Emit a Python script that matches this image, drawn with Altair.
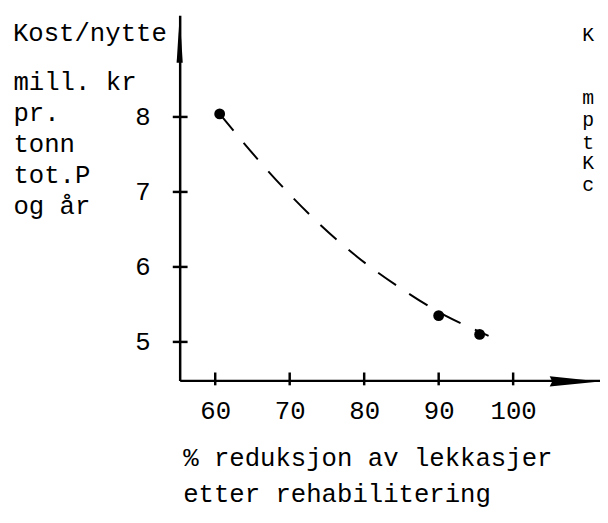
import altair as alt
import pandas as pd

# ---------------- data ----------------
point_x = [60.6, 90.0, 95.5]          # % reduksjon av lekkasjer
point_y = [8.04, 5.35, 5.10]          # kost/nytte, mill. kr pr. tonn tot.P og år
curve_x = [60.6, 65.4, 69.3, 73.7, 79.0, 85.3, 90.9, 95.4, 96.7]
curve_y = [8.04, 7.47, 7.04, 6.60, 6.14, 5.69, 5.35, 5.14, 5.08]
x_ticks = [60, 70, 80, 90, 100]
y_ticks = [5, 6, 7, 8]
y_head = "Kost/nytte"
y_title_lines = ["mill. kr", "pr.", "tonn", "tot.P", "og år"]
x_title_lines = ["% reduksjon av lekkasjer", "etter rehabilitering"]
right_letters = ["K", "m", "p", "t", "K", "c"]   # cut-off text of the next figure

# ---------------- layout / style constants ----------------
W, H = 426, 370
PAD = {"left": 174, "top": 4, "right": 0, "bottom": 133}
X_DOMAIN = [55.23, 111.66]
Y_DOMAIN = [4.487, 9.355]
FONT = "Liberation Mono"
FS = 26
WEIGHT = "normal"
RIGHT_X = 408
RIGHT_BASELINES = [38, 102, 124, 147, 168, 190]

xs = alt.Scale(domain=X_DOMAIN, nice=False, zero=False)
ys = alt.Scale(domain=Y_DOMAIN, nice=False, zero=False)

x_axis = alt.Axis(
    values=x_ticks, title=x_title_lines, grid=False, ticks=False, tickSize=0,
    domainColor="black", domainWidth=2.5,
    labelFont=FONT, labelFontSize=FS, labelFontWeight=WEIGHT, labelColor="black",
    labelPadding=18, labelAngle=0,
    titleFont=FONT, titleFontSize=FS, titleFontWeight=WEIGHT, titleColor="black",
    titleAlign="left", titleBaseline="alphabetic", titleAngle=0,
    titleX=3, titleY=86, titleLineHeight=37,
)
y_axis = alt.Axis(
    values=y_ticks, title=y_title_lines, grid=False, ticks=False, tickSize=0,
    domainColor="black", domainWidth=2.5,
    labelFont=FONT, labelFontSize=FS, labelFontWeight=WEIGHT, labelColor="black",
    labelPadding=30,
    titleFont=FONT, titleFontSize=FS, titleFontWeight=WEIGHT, titleColor="black",
    titleAlign="left", titleBaseline="alphabetic", titleAngle=0,
    titleX=-169, titleY=75, titleLineHeight=31.5,
)

curve_df = pd.DataFrame({"x": curve_x, "y": curve_y})
points_df = pd.DataFrame({"x": point_x, "y": point_y})
xt_df = pd.DataFrame({"x": x_ticks})
yt_df = pd.DataFrame({"y": y_ticks})

curve = alt.Chart(curve_df).mark_line(
    color="black", strokeWidth=2, strokeDash=[22, 16], interpolate="monotone"
).encode(
    x=alt.X("x:Q", scale=xs, axis=x_axis),
    y=alt.Y("y:Q", scale=ys, axis=y_axis),
)

points = alt.Chart(points_df).mark_circle(color="black", size=120, opacity=1).encode(
    x=alt.X("x:Q", scale=xs, axis=x_axis),
    y=alt.Y("y:Q", scale=ys, axis=y_axis),
)

xticks = alt.Chart(xt_df).mark_rule(color="black", strokeWidth=2.5).encode(
    x=alt.X("x:Q", scale=xs, axis=x_axis),
    y=alt.value(H - 8), y2=alt.value(H + 5),
)
yticks = alt.Chart(yt_df).mark_rule(color="black", strokeWidth=2.5).encode(
    y=alt.Y("y:Q", scale=ys, axis=y_axis),
    x=alt.value(-7), x2=alt.value(8),
)

one = pd.DataFrame({"a": [0]})
y_arrow = alt.Chart(one).mark_point(
    shape="M0,-1L0.13,1L-0.13,1Z", filled=True, color="black", opacity=1,
    size=48 * 48, strokeWidth=0,
).encode(x=alt.value(0), y=alt.value(24))
x_arrow = alt.Chart(one).mark_point(
    shape="M1,0L-1,-0.2L-0.9,0L-1,0.2Z", filled=True, color="black", opacity=1,
    size=51 * 51, strokeWidth=0,
).encode(x=alt.value(400.5), y=alt.value(H + 1))

head = alt.Chart(pd.DataFrame({"t": [y_head]})).mark_text(
    font=FONT, fontSize=FS, fontWeight=WEIGHT, align="left",
    baseline="alphabetic", color="black",
).encode(text="t:N", x=alt.value(-169), y=alt.value(26))

right_layers = [
    alt.Chart(pd.DataFrame({"t": [ch]})).mark_text(
        font=FONT, fontSize=20, fontWeight=WEIGHT, align="left",
        baseline="alphabetic", color="black",
    ).encode(text="t:N", x=alt.value(RIGHT_X), y=alt.value(b - 12))
    for ch, b in zip(right_letters, RIGHT_BASELINES)
]

chart = alt.layer(
    curve, points, xticks, yticks, y_arrow, x_arrow, head, *right_layers
).properties(
    width=W, height=H, padding=PAD, background="white",
    autosize=alt.AutoSizeParams(type="none"),
).configure_view(stroke=None)

chart.save("out.html", embed_options={"renderer": "svg", "actions": False})
